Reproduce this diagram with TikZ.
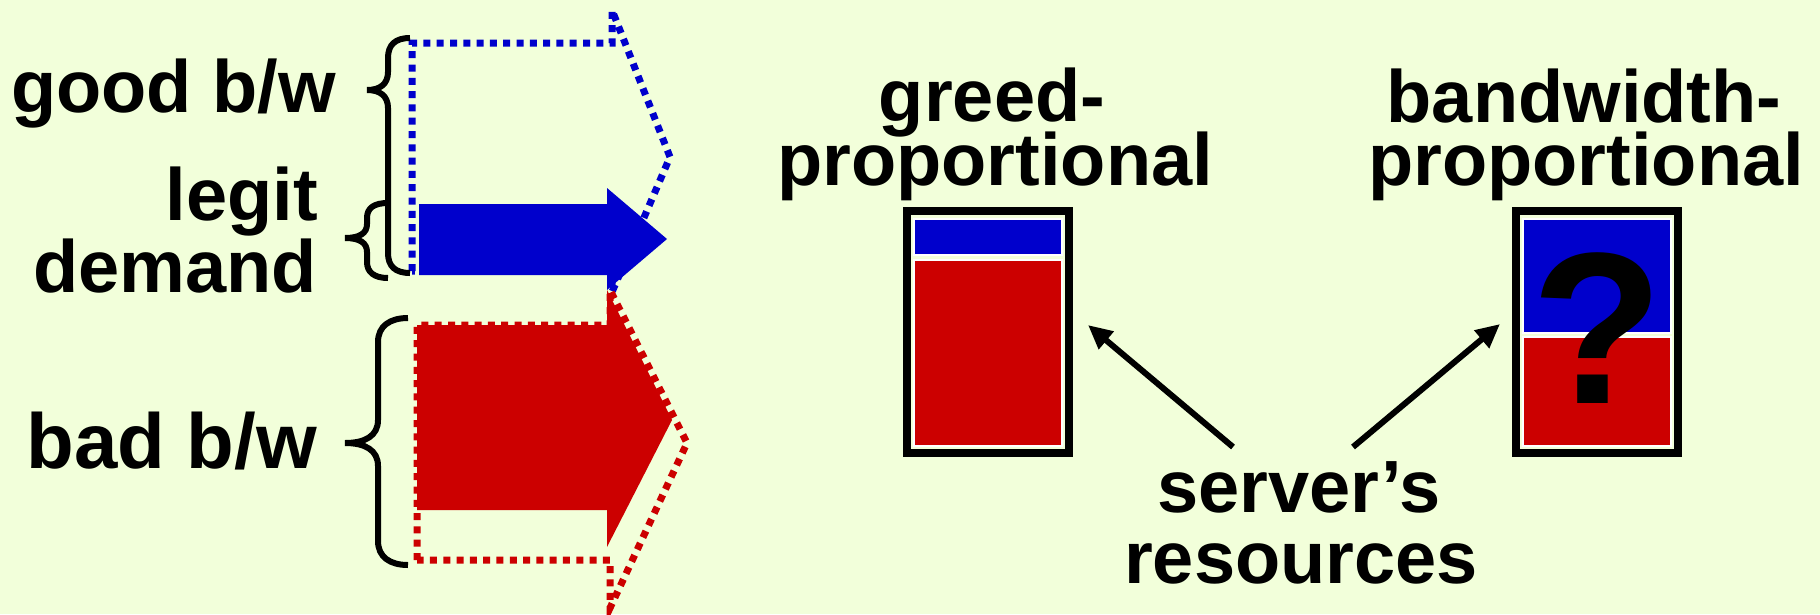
\documentclass[tikz,border=0pt]{standalone}
\usepackage{fontspec}
\setmainfont{Liberation Sans}
\usetikzlibrary{arrows.meta}
\definecolor{bg}{RGB}{242,255,218}
\definecolor{myblue}{RGB}{0,0,204}
\definecolor{myred}{RGB}{204,0,0}
\begin{document}
\begin{tikzpicture}[x=1pt,y=-1pt,
  lbl/.style={font=\fontsize{74}{74}\selectfont\bfseries, inner sep=0pt, outer sep=0pt},
  dots/.style={line width=7pt, dash pattern=on 7pt off 6.3pt},
  brace/.style={line width=6pt},
  frame/.style={draw=black, line width=8pt, minimum width=162pt, minimum height=242pt, inner sep=0pt},
  cell/.style={draw=white, line width=1.2pt},
  ptr/.style={line width=6pt, -{Triangle[length=24pt,width=22pt]}}
]
\fill[bg] (0,0) rectangle (1820,614);
\useasboundingbox (0,0) rectangle (1820,614);

% blue dotted (good bandwidth) arrow outline
\draw[dots, myblue] (412,271) -- (412,43) -- (612,43) -- (612,10) -- (670,157) -- (612,292) -- (612,271) -- cycle;
% solid blue (legit demand) arrow
\fill[myblue] (419,204) -- (607,204) -- (607,188) -- (667,239) -- (607,290) -- (607,275) -- (419,275) -- cycle;

% solid red arrow
\fill[myred] (417,325) -- (607,325) -- (607,290) -- (672,420) -- (607,547) -- (607,510) -- (417,510) -- cycle;
% red dotted arrow outline
\draw[dots, myred] (417,560) -- (417,325) -- (610,325) -- (610,290) -- (687,443) -- (610,608) -- (610,560) -- cycle;

% braces
\draw[brace] (410,38) .. controls (395,38) and (388,45) .. (388,58) -- (388,72) .. controls (388,84) and (380,90) .. (367,90) .. controls (380,90) and (388,96) .. (388,108) -- (388,253) .. controls (388,266) and (395,273) .. (410,273);
\draw[brace] (388,203) .. controls (374,203) and (367,208) .. (367,218) -- (367,224) .. controls (367,233) and (360,238) .. (345,238) .. controls (360,238) and (367,243) .. (367,252) -- (367,262) .. controls (367,272) and (374,278) .. (388,278);
\draw[brace] (408,318) .. controls (390,318) and (378,326) .. (378,342) -- (378,420) .. controls (378,436) and (365,443) .. (345,443) .. controls (365,443) and (378,450) .. (378,466) -- (378,541) .. controls (378,557) and (390,565) .. (408,565);

% left labels
\node[lbl, anchor=base east] (good) at (336,112) {good b/w};
\node[lbl, anchor=base east] (legit) at (318,220) {legit};
\node[lbl, anchor=base east] (demand) at (317,292) {demand};
\node[lbl, font=\fontsize{78}{78}\selectfont\bfseries, anchor=base east] (bad) at (317,468) {bad b/w};

% greed-proportional box
\node[frame] (gbox) at (988,332) {};
\filldraw[cell, fill=myblue] (914,219) rectangle (1062,255);
\filldraw[cell, fill=myred] (914,260) rectangle (1062,446);
\node[lbl, anchor=base] (greed) at (992,121) {greed-};
\node[lbl, anchor=base] (gprop) at (995,185) {proportional};

% bandwidth-proportional box
\node[frame] (bbox) at (1597,332) {};
\filldraw[cell, fill=myblue] (1523,219) rectangle (1671,333);
\filldraw[cell, fill=myred] (1523,337) rectangle (1671,446);
\node[font=\fontsize{216}{216}\selectfont\bfseries, inner sep=0pt] (qm) at (1597,328) {?};
\node[lbl, anchor=base] (bw) at (1584,122) {bandwidth-};
\node[lbl, anchor=base] (bprop) at (1586,185) {proportional};

% server's resources
\node[lbl, anchor=base] (server) at (1299,512) {server’s};
\node[lbl, anchor=base] (res) at (1301,583) {resources};
\coordinate (sL) at (1233,447);
\coordinate (tL) at (1088,325);
\coordinate (sR) at (1353,447);
\coordinate (tR) at (1500,324);
\draw[ptr] (sL) -- (tL);
\draw[ptr] (sR) -- (tR);
\end{tikzpicture}
\end{document}
